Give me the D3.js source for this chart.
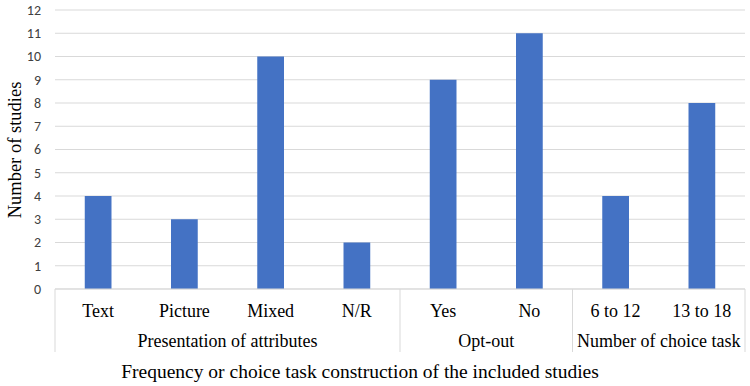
<!DOCTYPE html>
<html><head><meta charset="utf-8">
<script src="https://cdn.jsdelivr.net/npm/d3@7"></script>
<style>body{margin:0;background:#fff}</style>
</head><body><svg id="c" width="750" height="386"></svg>
<script>
const categories = ["Text","Picture","Mixed","N/R","Yes","No","6 to 12","13 to 18"];
const values = [4,3,10,2,9,11,4,8];
const groups = ["Presentation of attributes","Presentation of attributes","Presentation of attributes","Presentation of attributes","Opt-out","Opt-out","Number of choice task","Number of choice task"];
const yTicks = [0,1,2,3,4,5,6,7,8,9,10,11,12];
const xTitle = "Frequency or choice task construction of the included studies";
const yTitle = "Number of studies";

const svg = d3.select("#c");
const m = {l:55, r:5, t:10, b:97};
const W = 750, H = 386;
const x = d3.scaleBand().domain(d3.range(categories.length)).range([m.l, W - m.r]);
const y = d3.scaleLinear().domain([0,12]).range([H - m.b, m.t]);

// gridlines
svg.append("g").selectAll("line").data(yTicks).join("line")
  .attr("x1", m.l).attr("x2", W - m.r)
  .attr("y1", d => y(d)).attr("y2", d => y(d))
  .attr("stroke", "#d9d9d9").attr("stroke-width", 1);

// y tick labels
svg.append("g").selectAll("text").data(yTicks).join("text")
  .attr("x", 41).attr("y", d => y(d)).attr("dy", "0.35em")
  .attr("text-anchor", "end")
  .attr("font-family", "Carlito, 'Liberation Sans', Arial, sans-serif")
  .attr("font-size", 14).attr("fill", "#404040")
  .text(d => d);

// bars
const bw = x.bandwidth() * 0.31;
svg.append("g").selectAll("rect").data(values).join("rect")
  .attr("x", (d,i) => x(i) + x.bandwidth()/2 - bw/2)
  .attr("y", d => y(d))
  .attr("width", bw)
  .attr("height", d => y(0) - y(d))
  .attr("fill", "#4472c4");

// category labels
svg.append("g").selectAll("text").data(categories).join("text")
  .attr("x", (d,i) => x(i) + x.bandwidth()/2).attr("y", 317)
  .attr("text-anchor", "middle")
  .attr("font-family", "'Liberation Serif', 'Times New Roman', serif")
  .attr("font-size", 18).attr("fill", "#000")
  .text(d => d);

// group spans
const groupSpans = [];
groups.forEach((g,i) => {
  const last = groupSpans[groupSpans.length-1];
  if (last && last.name === g) last.end = i; else groupSpans.push({name:g, start:i, end:i});
});
const sepY2 = 352;
const bounds = [x(0)].concat(groupSpans.map(s => x(s.end) + x.bandwidth()));
svg.append("g").selectAll("line").data(bounds).join("line")
  .attr("x1", d => d).attr("x2", d => d)
  .attr("y1", y(0)).attr("y2", sepY2)
  .attr("stroke", "#d9d9d9").attr("stroke-width", 1);
svg.append("g").selectAll("text").data(groupSpans).join("text")
  .attr("x", s => (x(s.start) + x(s.end) + x.bandwidth())/2).attr("y", 347)
  .attr("text-anchor", "middle")
  .attr("font-family", "'Liberation Serif', 'Times New Roman', serif")
  .attr("font-size", 18).attr("fill", "#000")
  .text(s => s.name);

// axis line
svg.append("line").attr("x1", m.l).attr("x2", W - m.r).attr("y1", y(0)).attr("y2", y(0))
  .attr("stroke", "#d9d9d9");

// titles
svg.append("text").attr("x", 360).attr("y", 378).attr("text-anchor", "middle")
  .attr("font-family", "'Liberation Serif', 'Times New Roman', serif")
  .attr("font-size", 19.5).text(xTitle);
svg.append("text").attr("transform", "translate(21,150) rotate(-90)")
  .attr("text-anchor", "middle")
  .attr("font-family", "'Liberation Serif', 'Times New Roman', serif")
  .attr("font-size", 18.5).text(yTitle);
</script></body></html>
